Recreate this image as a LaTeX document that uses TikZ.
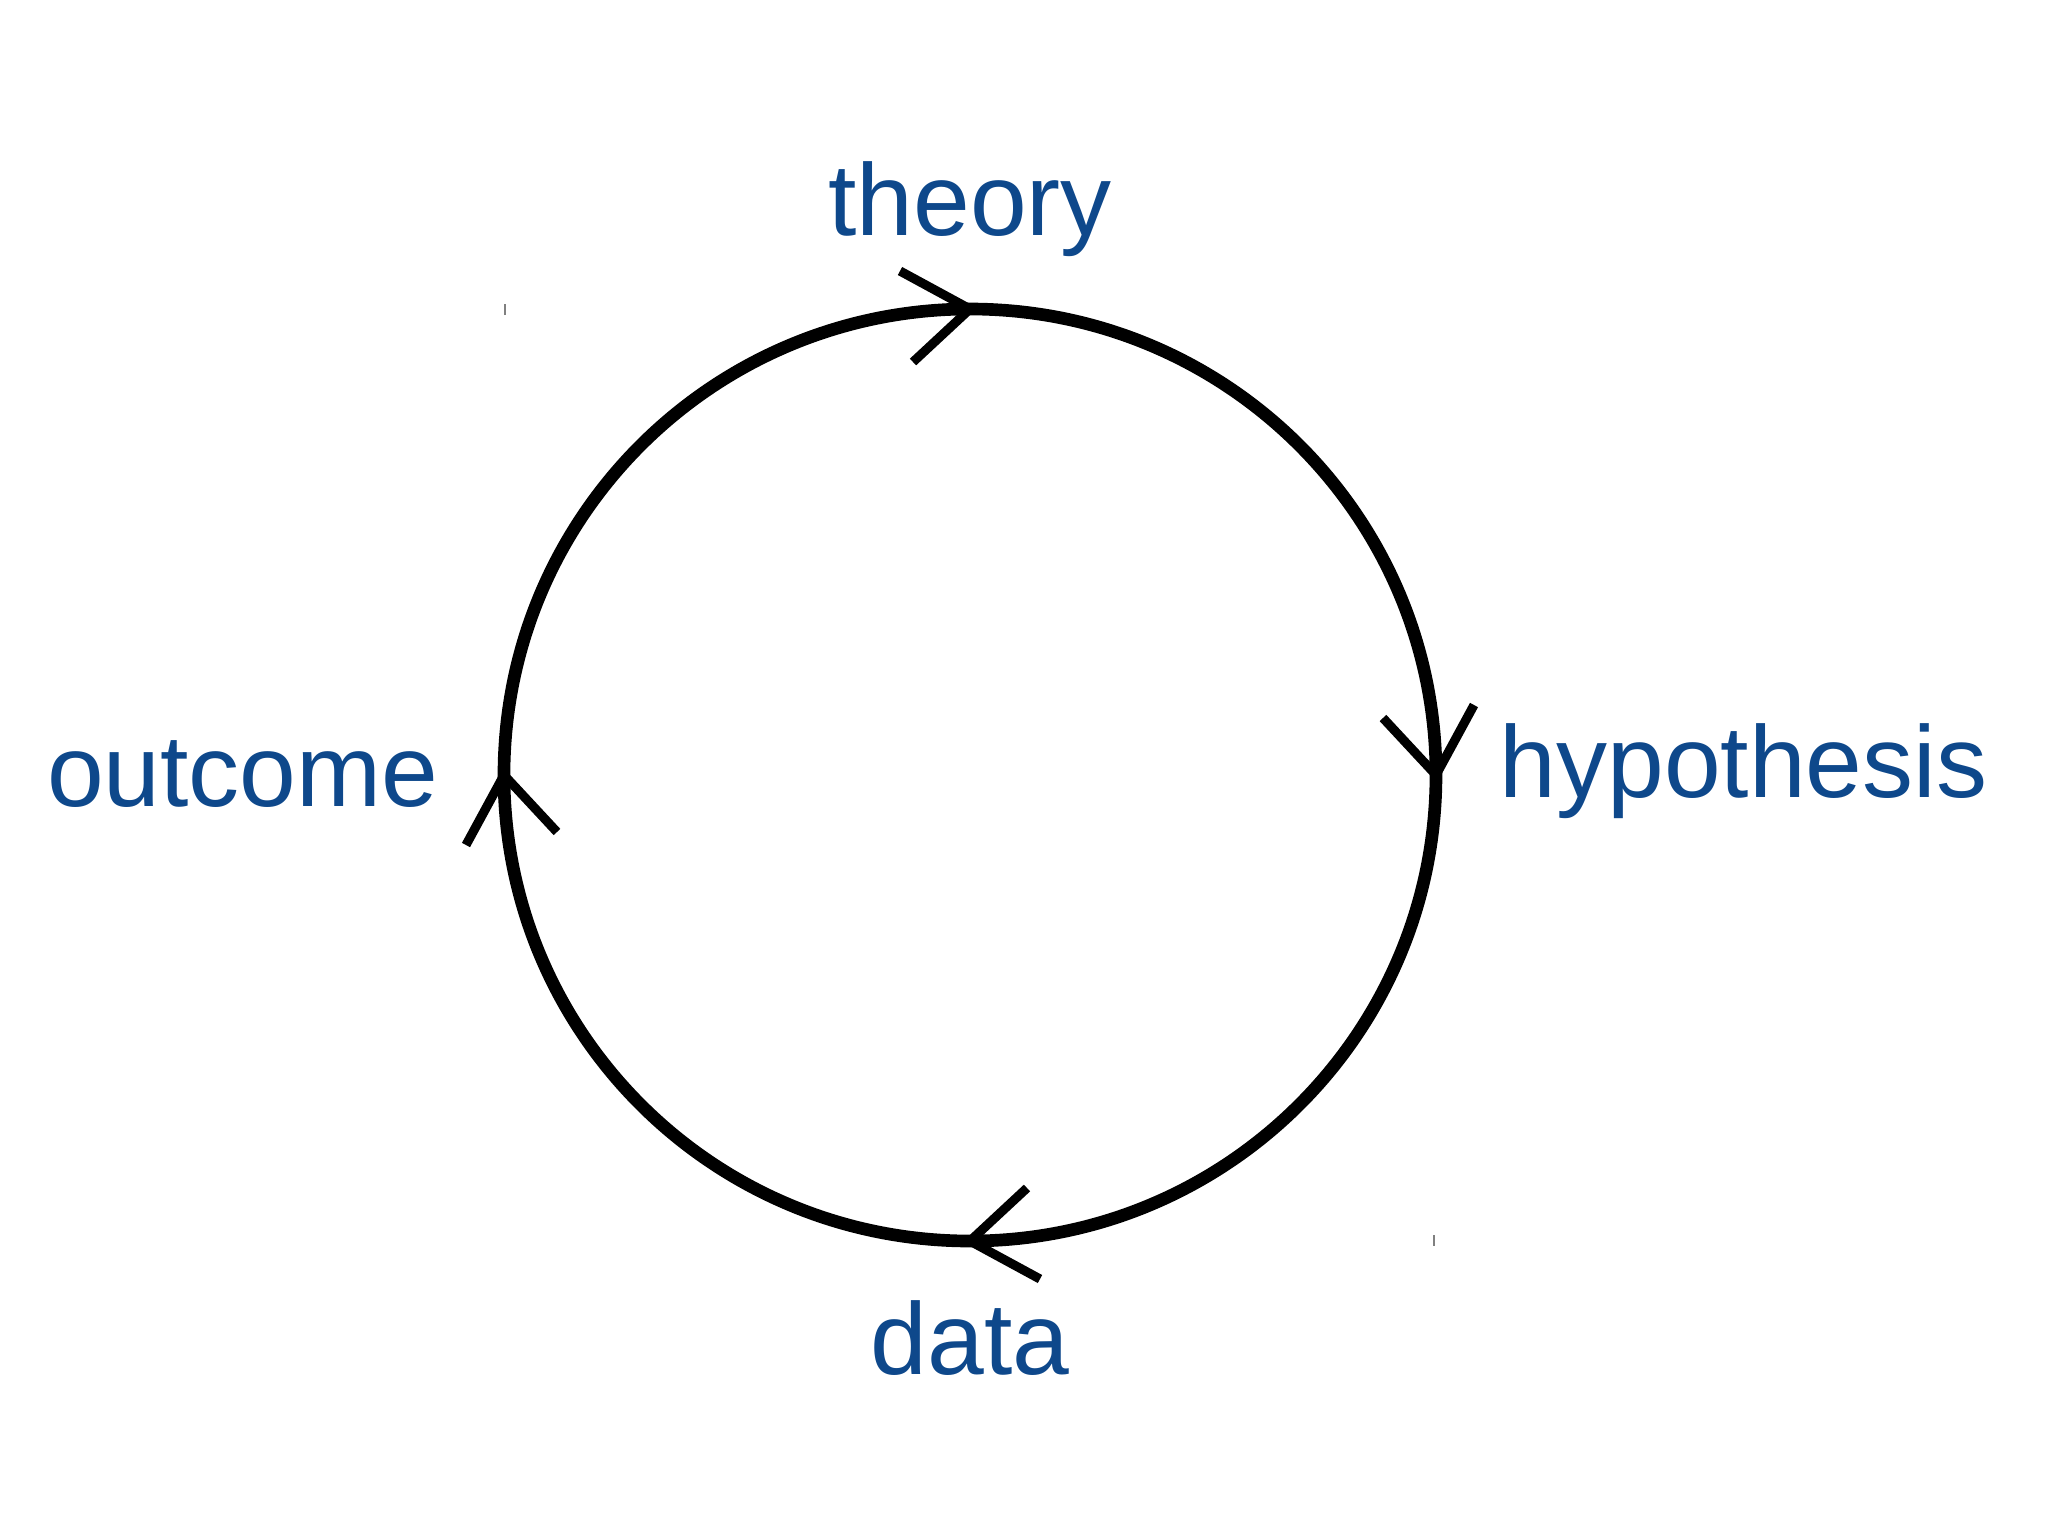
\documentclass[tikz,border=0pt]{standalone}
\usepackage{fontspec}
\newfontfamily\lblfont{Liberation Sans}
\definecolor{lblblue}{RGB}{14,72,139}
\tikzset{lbl/.style={text=lblblue, inner sep=0pt, font=\lblfont\fontsize{29}{34}\selectfont}}
\begin{document}
\begin{tikzpicture}[x=0.01cm, y=0.01cm]
	\useasboundingbox (-970,-760) rectangle (1078,775);
	\draw[line width=3.6pt] (0,0) circle (466);
	\foreach \a in {0,-90,-180,-270}
	{\draw[line width=2.6pt, rotate=\a] (-70,504) -- (0,466) -- (-57,413);}
	\draw[gray, line width=0.6pt] (-465,460) -- (-465,471);
	\draw[gray, line width=0.6pt] (464,-460) -- (464,-471);
	\node[lbl, anchor=base] (theory) at (0,540) {theory};
	\node[lbl, anchor=base west] (hypothesis) at (529,-22) {hypothesis};
	\node[lbl, anchor=base] (data) at (0,-599) {data};
	\node[lbl, anchor=base east] (outcome) at (-531,-31) {outcome};
\end{tikzpicture}
\end{document}
